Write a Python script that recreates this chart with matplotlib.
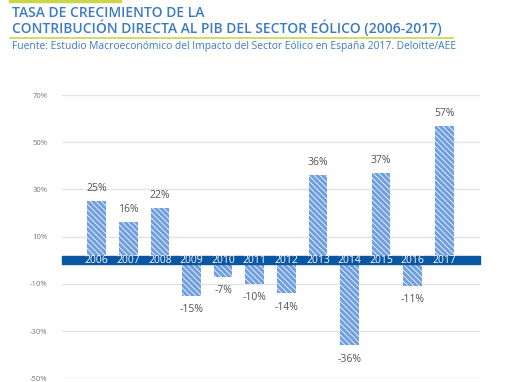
import matplotlib.pyplot as plt
import matplotlib.patches as mpatches

# datos
years = ['2006', '2007', '2008', '2009', '2010', '2011', '2012',
         '2013', '2014', '2015', '2016', '2017']
growth = [25, 16, 22, -15, -7, -10, -14, 36, -36, 37, -11, 57]
ticks = [70, 50, 30, 10, -10, -30, -50]

title_color = '#3b7ac4'
bar_color = '#6f9fe0'
band_color = '#0a56a0'
line_color = '#c9d64a'

plt.rcParams['font.family'] = ['Open Sans', 'DejaVu Sans']
plt.rcParams['hatch.linewidth'] = 0.55

fig = plt.figure(figsize=(5.1, 3.82), dpi=100)
ax = fig.add_axes([62 / 510, 1 - 378.3 / 382, (480 - 62) / 510, (378.3 - 95) / 382])

x = range(len(years))
ax.bar(x, growth, width=0.59, color=bar_color, edgecolor='white',
       linewidth=0, hatch='\\\\\\\\\\\\', zorder=2)

# franja con los años
ax.add_patch(mpatches.Rectangle((-1.1, -1.5), 13.23, 3.2, color=band_color,
                                zorder=3, clip_on=False))
for i, y in enumerate(years):
    ax.text(i, 0.1, y, ha='center', va='center', color='white',
            fontsize=7.5, zorder=4)

# etiquetas de valor
for i, v in enumerate(growth):
    if v >= 0:
        ax.text(i, v + 3, f'{v}%', ha='center', va='bottom',
                color='#555555', fontsize=7.5)
    else:
        ax.text(i, v - 3.5, f'{v}%', ha='center', va='top',
                color='#555555', fontsize=7.5)

ax.set_xlim(-1.1, 12.13)
ax.set_ylim(-50, 70)
ax.set_yticks(ticks)
ax.set_yticklabels([f'{t}%' for t in ticks], color='#777777', fontsize=5.5)
ax.tick_params(axis='y', length=0, pad=10.5)
ax.set_xticks([])
ax.grid(axis='y', color='#dbe3ec', linewidth=1, zorder=0)
ax.set_axisbelow(True)
for s in ax.spines.values():
    s.set_visible(False)

# cabecera
fig.text(12 / 510, 1 - 6 / 382, 'TASA DE CRECIMIENTO DE LA\nCONTRIBUCIÓN DIRECTA AL PIB DEL SECTOR EÓLICO (2006-2017)',
         ha='left', va='top', color=title_color, fontsize=10.0,
         fontweight='semibold', linespacing=0.97)
fig.add_artist(plt.Line2D([10 / 510, 120 / 510], [1 - 1 / 382, 1 - 1 / 382],
                          color=line_color, linewidth=2.5))
fig.add_artist(plt.Line2D([10 / 510, 453 / 510], [1 - 37.7 / 382, 1 - 37.7 / 382],
                          color=line_color, linewidth=1.2))
fig.text(12 / 510, 1 - 46.5 / 382,
         'Fuente: Estudio Macroeconómico del Impacto del Sector Eólico en España 2017. Deloitte/AEE',
         ha='left', va='center', color=title_color, fontsize=7.4)

fig.savefig('out.png', dpi=100)
